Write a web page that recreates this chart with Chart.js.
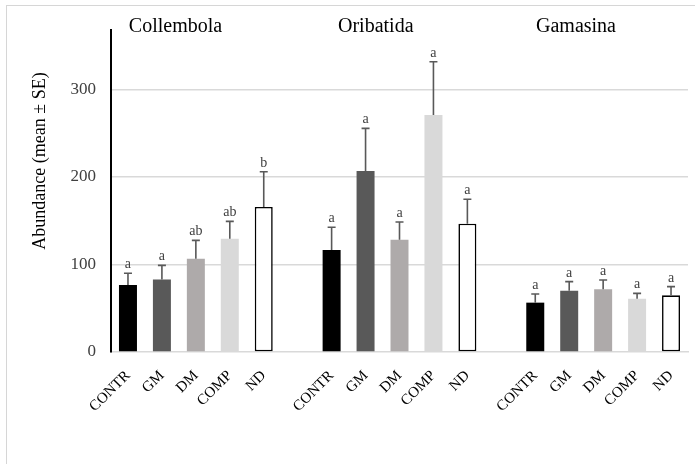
<!DOCTYPE html>
<html>
<head>
<meta charset="utf-8">
<script src="https://cdn.jsdelivr.net/npm/chart.js@4.4.1/dist/chart.umd.min.js"></script>
<style>
  body { margin: 0; background: #fff; }
  #wrap { position: relative; width: 695px; height: 464px; }
  #frame { position: absolute; left: 6px; top: 5px; right: -10px; bottom: -10px;
           border-top: 1px solid #d6d6d6; border-left: 1px solid #d6d6d6; pointer-events: none; }
</style>
</head>
<body>
<div id="wrap">
  <canvas id="chart"></canvas>
  <div id="frame"></div>
</div>
<script>
// data
var groups = ['Collembola', 'Oribatida', 'Gamasina'];
var treatments = ['CONTR', 'GM', 'DM', 'COMP', 'ND'];
var collembolaMean = [76.6, 83, 106.6, 129.5, 165.7];
var collembolaSE   = [13.4, 16, 21, 19.8, 40.3];
var oribatidaMean  = [116.6, 207, 128.4, 270.9, 146.7];
var oribatidaSE    = [25.9, 48.6, 20.2, 60.9, 27.8];
var gamasinaMean   = [56.4, 70.1, 71.6, 61, 64.8];
var gamasinaSE     = [9.9, 10.3, 10.7, 6, 9.9];
var collembolaLetters = ['a', 'a', 'ab', 'ab', 'b'];
var oribatidaLetters  = ['a', 'a', 'a', 'a', 'a'];
var gamasinaLetters   = ['a', 'a', 'a', 'a', 'a'];
var yTicks = [0, 100, 200, 300];

var fills   = ['#000000', '#595959', '#aeaaaa', '#d9d9d9', '#ffffff'];
var borders = ['#000000', '#595959', '#aeaaaa', '#d9d9d9', '#000000'];
var bWidth  = [0, 0, 0, 0, 1.6];

// flatten the three groups onto one category axis with an empty slot between
var labels = [], means = [], ses = [], letters = [], bg = [], bc = [], bw = [], groupStart = [];
[[collembolaMean, collembolaSE, collembolaLetters],
 [oribatidaMean, oribatidaSE, oribatidaLetters],
 [gamasinaMean, gamasinaSE, gamasinaLetters]].forEach(function (g, gi) {
  if (gi > 0) { labels.push(''); means.push(null); ses.push(null); letters.push(''); bg.push('#fff'); bc.push('#fff'); bw.push(0); }
  groupStart.push(labels.length);
  treatments.forEach(function (t, i) {
    labels.push(t); means.push(g[0][i]); ses.push(g[1][i]); letters.push(g[2][i]);
    bg.push(fills[i]); bc.push(borders[i]); bw.push(bWidth[i]);
  });
});

var serif = '"Liberation Serif", "Times New Roman", serif';

var extras = {
  id: 'extras',
  afterDatasetsDraw: function (chart) {
    var ctx = chart.ctx, y = chart.scales.y, x = chart.scales.x;
    var meta = chart.getDatasetMeta(0);
    ctx.save();
    meta.data.forEach(function (bar, i) {
      if (means[i] == null) return;
      var top = y.getPixelForValue(means[i] + ses[i]);
      var base = y.getPixelForValue(means[i]);
      ctx.strokeStyle = '#595959';
      ctx.lineWidth = 1.6;
      ctx.beginPath();
      ctx.moveTo(bar.x, base); ctx.lineTo(bar.x, top);
      ctx.moveTo(bar.x - 4, top); ctx.lineTo(bar.x + 4, top);
      ctx.stroke();
      ctx.fillStyle = '#404040';
      ctx.font = '14px ' + serif;
      ctx.textAlign = 'center';
      ctx.textBaseline = 'alphabetic';
      ctx.fillText(letters[i], bar.x, top - 5);
    });
    // group names
    ctx.fillStyle = '#000';
    ctx.font = '20px ' + serif;
    ctx.textAlign = 'center';
    ctx.textBaseline = 'middle';
    var offs = [1.4, 1.3, 1.2];
    groups.forEach(function (name, gi) {
      ctx.fillText(name, x.getPixelForValue(groupStart[gi] + offs[gi]), 27);
    });
    // y title
    ctx.translate(40, 161);
    ctx.rotate(-Math.PI / 2);
    ctx.fillStyle = '#000';
    ctx.font = '18px ' + serif;
    ctx.fillText('Abundance (mean \u00b1 SE)', 0, 0);
    ctx.restore();
  }
};

var ctx = document.getElementById('chart').getContext('2d');
new Chart(ctx, {
  type: 'bar',
  data: {
    labels: labels,
    datasets: [{
      data: means,
      backgroundColor: bg,
      borderColor: bc,
      borderWidth: bw,
      borderSkipped: false,
      categoryPercentage: 1,
      barPercentage: 0.53
    }]
  },
  options: {
    responsive: true,
    maintainAspectRatio: false,
    animation: false,
    layout: { padding: { left: 0, top: 30, right: 7, bottom: 0 } },
    plugins: { legend: { display: false }, tooltip: { enabled: false } },
    scales: {
      x: {
        grid: { display: false },
        border: { color: '#d9d9d9', width: 1.5 },
        ticks: {
          autoSkip: false, maxRotation: 45, minRotation: 45,
          color: '#000', font: { family: serif, size: 15 }, padding: 7
        },
        afterFit: function (s) { s.height = 112; }
      },
      y: {
        min: 0, max: 368,
        grid: {
          drawTicks: false,
          color: function (c) { return c.tick && c.tick.value === 0 ? 'rgba(0,0,0,0)' : '#d9d9d9'; },
          lineWidth: 1.5
        },
        border: { color: '#000', width: 2 },
        ticks: { color: '#404040', font: { family: serif, size: 17 }, padding: 15 },
        afterBuildTicks: function (s) { s.ticks = yTicks.map(function (v) { return { value: v }; }); },
        afterFit: function (s) { s.width = 111; }
      }
    }
  },
  plugins: [extras]
});
</script>
</body>
</html>
